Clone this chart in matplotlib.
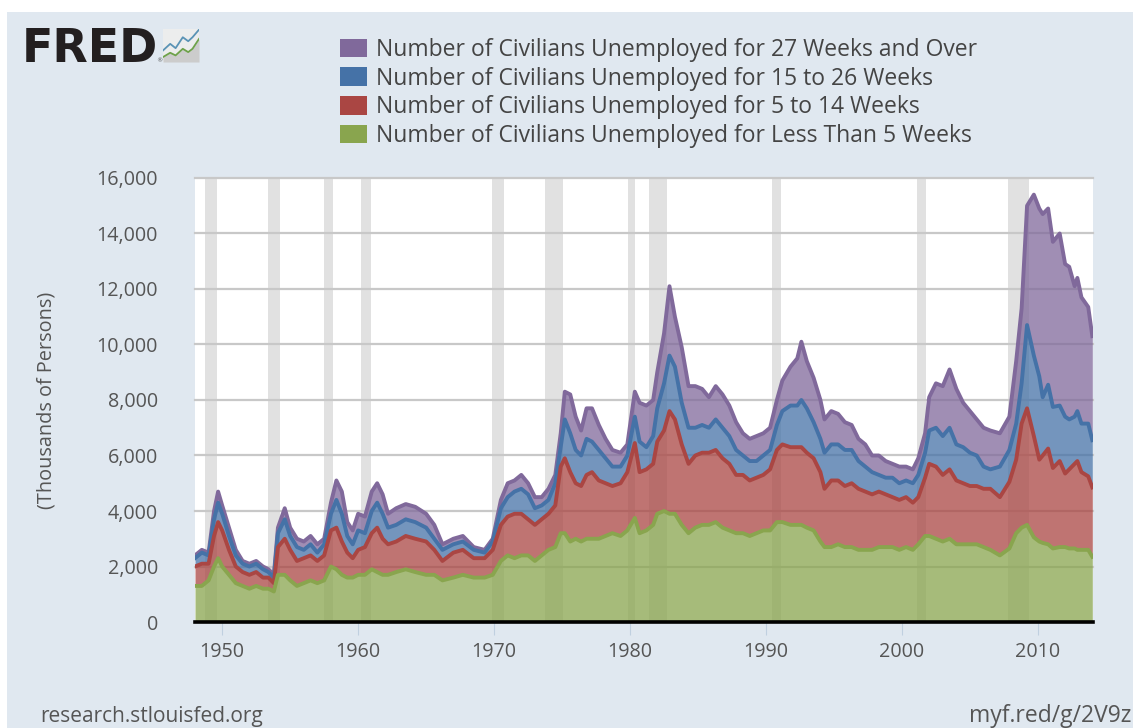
import numpy as np
import matplotlib
matplotlib.use('Agg')
import matplotlib.pyplot as plt
from matplotlib.patches import Patch, Rectangle

# data, thousands of persons, top edge of each stacked band
years = [1948.0, 1948.5, 1949.0, 1949.4, 1949.7, 1950.0, 1950.5, 1951.0, 1951.5, 1952.0,
         1952.5, 1953.0, 1953.4, 1953.8, 1954.1, 1954.6, 1955.0, 1955.5, 1956.0, 1956.5,
         1957.0, 1957.5, 1958.0, 1958.4, 1958.8, 1959.2, 1959.6, 1960.0, 1960.5, 1961.0,
         1961.4, 1961.8, 1962.2, 1962.8, 1963.5, 1964.2, 1965.0, 1965.6, 1966.2, 1967.0,
         1967.7, 1968.5, 1969.3, 1969.9, 1970.5, 1971.0, 1971.5, 1972.0, 1972.5, 1973.0,
         1973.5, 1974.0, 1974.5, 1974.9, 1975.2, 1975.6, 1976.0, 1976.4, 1976.8, 1977.2,
         1977.7, 1978.2, 1978.7, 1979.3, 1979.8, 1980.35, 1980.7, 1981.2, 1981.7, 1982.0,
         1982.5, 1982.9, 1983.3, 1983.8, 1984.3, 1984.8, 1985.3, 1985.8, 1986.3, 1986.8,
         1987.3, 1987.8, 1988.3, 1988.8, 1989.3, 1989.8, 1990.3, 1990.8, 1991.2, 1991.8,
         1992.3, 1992.6, 1993.0, 1993.5, 1994.0, 1994.3, 1994.8, 1995.3, 1995.8, 1996.3,
         1996.8, 1997.3, 1997.8, 1998.3, 1998.8, 1999.3, 1999.8, 2000.3, 2000.8, 2001.2,
         2001.7, 2002.0, 2002.5, 2003.0, 2003.5, 2004.0, 2004.5, 2005.0, 2005.5, 2006.0,
         2006.5, 2007.2, 2007.9, 2008.4, 2008.8, 2009.2, 2009.7, 2010.1, 2010.35, 2010.75,
         2011.1, 2011.6, 2012.0, 2012.3, 2012.7, 2012.9, 2013.2, 2013.7, 2014.0]
under_5 = [1.3, 1.3, 1.5, 2.0, 2.3, 2.0, 1.7, 1.4, 1.3, 1.2,
           1.3, 1.2, 1.2, 1.1, 1.7, 1.7, 1.5, 1.3, 1.4, 1.5,
           1.4, 1.5, 2.0, 1.9, 1.7, 1.6, 1.6, 1.7, 1.7, 1.9,
           1.8, 1.7, 1.7, 1.8, 1.9, 1.8, 1.7, 1.7, 1.5, 1.6,
           1.7, 1.6, 1.6, 1.7, 2.2, 2.4, 2.3, 2.4, 2.4, 2.2,
           2.4, 2.6, 2.7, 3.2, 3.2, 2.9, 3.0, 2.9, 3.0, 3.0,
           3.0, 3.1, 3.2, 3.1, 3.3, 3.75, 3.2, 3.3, 3.5, 3.9,
           4.0, 3.9, 3.9, 3.5, 3.2, 3.4, 3.5, 3.5, 3.6, 3.4,
           3.3, 3.2, 3.2, 3.1, 3.2, 3.3, 3.3, 3.6, 3.6, 3.5,
           3.5, 3.5, 3.4, 3.3, 2.9, 2.7, 2.7, 2.8, 2.7, 2.7,
           2.6, 2.6, 2.6, 2.7, 2.7, 2.7, 2.6, 2.7, 2.6, 2.8,
           3.1, 3.1, 3.0, 2.9, 3.0, 2.8, 2.8, 2.8, 2.8, 2.7,
           2.6, 2.4, 2.65, 3.2, 3.4, 3.5, 3.05, 2.9, 2.85, 2.8,
           2.65, 2.7, 2.7, 2.65, 2.65, 2.6, 2.6, 2.6, 2.35]
w5_14 = [2.0, 2.1, 2.1, 3.1, 3.6, 3.3, 2.6, 2.0, 1.8, 1.7,
         1.8, 1.6, 1.6, 1.4, 2.7, 3.0, 2.6, 2.2, 2.3, 2.4,
         2.2, 2.4, 3.3, 3.4, 2.9, 2.5, 2.3, 2.6, 2.7, 3.2,
         3.4, 3.0, 2.8, 2.9, 3.1, 3.0, 2.9, 2.6, 2.2, 2.5,
         2.6, 2.3, 2.3, 2.6, 3.5, 3.8, 3.9, 3.9, 3.7, 3.5,
         3.7, 3.9, 4.2, 5.6, 5.9, 5.4, 5.0, 4.9, 5.3, 5.4,
         5.1, 5.0, 4.9, 5.0, 5.4, 6.45, 5.4, 5.5, 5.7, 6.5,
         6.9, 7.6, 7.3, 6.4, 5.7, 6.0, 6.1, 6.1, 6.2, 5.9,
         5.7, 5.3, 5.3, 5.1, 5.2, 5.3, 5.5, 6.2, 6.4, 6.3,
         6.3, 6.3, 6.1, 5.9, 5.4, 4.8, 5.1, 5.1, 4.9, 5.0,
         4.8, 4.7, 4.6, 4.7, 4.6, 4.5, 4.4, 4.5, 4.3, 4.5,
         5.2, 5.7, 5.6, 5.3, 5.5, 5.1, 5.0, 4.9, 4.9, 4.8,
         4.8, 4.5, 5.05, 5.85, 7.15, 7.7, 6.7, 5.85, 6.0, 6.25,
         5.55, 5.8, 5.35, 5.5, 5.7, 5.8, 5.4, 5.25, 4.85]
w15_26 = [2.3, 2.5, 2.4, 3.7, 4.3, 3.9, 3.1, 2.4, 2.1, 2.0,
          2.1, 1.9, 1.8, 1.6, 3.2, 3.7, 3.1, 2.7, 2.6, 2.8,
          2.5, 2.8, 3.9, 4.4, 3.9, 3.1, 2.8, 3.3, 3.2, 4.0,
          4.3, 3.9, 3.4, 3.5, 3.7, 3.6, 3.4, 3.0, 2.6, 2.8,
          2.9, 2.6, 2.5, 2.9, 4.1, 4.5, 4.7, 4.8, 4.6, 4.1,
          4.2, 4.4, 5.0, 6.3, 7.3, 6.8, 6.2, 6.0, 6.6, 6.5,
          6.2, 5.9, 5.6, 5.6, 6.0, 7.4, 6.5, 6.3, 6.7, 7.7,
          8.6, 9.6, 9.2, 7.9, 7.0, 7.0, 7.1, 7.0, 7.3, 7.0,
          6.7, 6.2, 6.0, 5.8, 5.8, 6.0, 6.2, 7.1, 7.6, 7.8,
          7.8, 8.0, 7.7, 7.2, 6.6, 6.1, 6.4, 6.4, 6.2, 6.2,
          5.8, 5.6, 5.4, 5.3, 5.2, 5.2, 5.0, 5.1, 5.0, 5.3,
          6.1, 6.9, 7.0, 6.7, 7.0, 6.4, 6.3, 6.1, 6.0, 5.6,
          5.5, 5.6, 6.2, 7.15, 8.6, 10.7, 9.6, 8.85, 8.1, 8.55,
          7.75, 7.8, 7.4, 7.3, 7.4, 7.6, 7.15, 7.15, 6.55]
w27_over = [2.4, 2.6, 2.5, 4.0, 4.7, 4.2, 3.4, 2.6, 2.2, 2.1,
            2.2, 2.0, 1.9, 1.7, 3.4, 4.1, 3.4, 3.0, 2.9, 3.1,
            2.8, 3.0, 4.3, 5.1, 4.7, 3.6, 3.3, 3.9, 3.8, 4.7,
            5.0, 4.6, 3.9, 4.1, 4.25, 4.15, 3.9, 3.5, 2.8, 3.0,
            3.1, 2.7, 2.6, 3.0, 4.4, 5.0, 5.1, 5.3, 5.0, 4.5,
            4.5, 4.8, 5.3, 6.8, 8.3, 8.2, 7.4, 6.9, 7.7, 7.7,
            7.1, 6.6, 6.2, 6.1, 6.4, 8.3, 7.9, 7.8, 8.0, 9.0,
            10.4, 12.1, 11.0, 9.9, 8.5, 8.5, 8.4, 8.1, 8.5, 8.2,
            7.8, 7.2, 6.8, 6.6, 6.7, 6.8, 7.0, 8.0, 8.7, 9.2,
            9.5, 10.1, 9.4, 8.8, 8.0, 7.3, 7.6, 7.5, 7.2, 7.1,
            6.6, 6.4, 6.0, 6.0, 5.8, 5.7, 5.6, 5.6, 5.5, 5.9,
            6.8, 8.1, 8.6, 8.5, 9.1, 8.4, 7.9, 7.6, 7.3, 7.0,
            6.9, 6.8, 7.4, 9.4, 11.3, 15.0, 15.4, 14.9, 14.7, 14.9,
            13.7, 14.0, 12.9, 12.8, 12.1, 12.4, 11.7, 11.35, 10.3]

series_names = ['Number of Civilians Unemployed for 27 Weeks and Over',
                'Number of Civilians Unemployed for 15 to 26 Weeks',
                'Number of Civilians Unemployed for 5 to 14 Weeks',
                'Number of Civilians Unemployed for Less Than 5 Weeks']
recession_start = [1948.73, 1953.38, 1957.48, 1960.18, 1969.83, 1973.73, 1979.88, 1981.38, 1990.43, 2001.08, 2007.83]
recession_end = [1949.63, 1954.28, 1958.18, 1960.98, 1970.73, 1975.08, 1980.38, 1982.73, 1991.08, 2001.73, 2009.33]
y_ticks = [0, 2000, 4000, 6000, 8000, 10000, 12000, 14000, 16000]
x_ticks = [1950, 1960, 1970, 1980, 1990, 2000, 2010]

plt.rcParams['font.family'] = ['Open Sans', 'DejaVu Sans']

PANEL = '#e0e8f0'
TEXT = '#555555'
colors = {'green': '#89a54e', 'red': '#aa4643', 'blue': '#4572a7', 'purple': '#80699b'}

W, H = 1133, 728
fig = plt.figure(figsize=(W / 100, H / 100), dpi=100, facecolor='white')
fig.patches.append(Rectangle((7 / W, 0), 1 - 7 / W, 1 - 12 / H, transform=fig.transFigure,
                             facecolor=PANEL, edgecolor='none', zorder=-5))

ax = fig.add_axes([195 / W, (H - 622) / H, 898 / W, 444 / H])
ax.set_facecolor('white')
ax.set_xlim(1948.0, 2014.05)
ax.set_ylim(0, 16000)

for a, b in zip(recession_start, recession_end):
    ax.axvspan(a, b, color='#e1e1e1', lw=0, zorder=1)
ax.yaxis.grid(True, color='#c8c8c8', lw=1.6)
ax.set_axisbelow(False)
for line in ax.get_ygridlines():
    line.set_zorder(2)
    line.set_clip_on(False)

x = np.array(years)
bands = [('green', np.zeros(len(x)), under_5),
         ('red', under_5, w5_14),
         ('blue', w5_14, w15_26),
         ('purple', w15_26, w27_over)]
for name, low, top in bands:
    low = np.array(low) * 1000
    top = np.array(top) * 1000
    ax.fill_between(x, low, top, color=colors[name], alpha=0.75, lw=0, zorder=3)
for name, low, top in reversed(bands):
    ax.plot(x, np.array(top) * 1000, color=colors[name], lw=2.8, zorder=4, solid_joinstyle='round')

for s in ['left', 'right', 'top']:
    ax.spines[s].set_visible(False)
ax.spines['bottom'].set_color('black')
ax.spines['bottom'].set_linewidth(2.6)
ax.spines['bottom'].set_zorder(6)

ax.set_yticks(y_ticks)
ax.set_yticklabels([f'{v:,}' for v in y_ticks])
ax.set_xticks(x_ticks)
ax.tick_params(axis='y', length=0, pad=37 / 1.39, labelsize=14.2, labelcolor=TEXT)
ax.tick_params(axis='x', length=9.5, width=0.8, color='#c0d0e0', pad=5, labelsize=14.2, labelcolor=TEXT)
ax.set_ylabel('(Thousands of Persons)', fontsize=14.3, color=TEXT)
ax.yaxis.set_label_coords(-138 / 898, 0.5)

handles = [Patch(facecolor=colors[c], edgecolor='none') for c in ['purple', 'blue', 'red', 'green']]
fig.legend(handles, series_names, loc='upper left', bbox_to_anchor=(340 / W, 1 - 38 / H), frameon=False,
           fontsize=16.5, labelcolor='#444444', handlelength=1.18, handleheight=0.87, handletextpad=0.4,
           labelspacing=0.2, borderpad=0, borderaxespad=0)

# logo
fig.text(22 / W, 1 - 62 / H, 'FRED', family='DejaVu Sans', weight='bold', fontsize=33, color='#231f20')
fig.text(156 / W, 1 - 62 / H, '®', family='DejaVu Sans', fontsize=4.5, color='#555555')
logo = fig.add_axes([163 / W, 1 - 62 / H, 36 / W, 33 / H])
logo.set_facecolor('#eceded')
logo.set_xlim(0, 10)
logo.set_ylim(0, 10)
logo.set_xticks([])
logo.set_yticks([])
for s in logo.spines.values():
    s.set_visible(False)
logo_x = [0, 2, 3.5, 5.5, 7, 8.2, 10]
logo.fill_between(logo_x, 0, [1.5, 2.8, 2, 4, 3, 4, 7], color='#cccccc', lw=0)
logo.plot(logo_x, [3.5, 5.5, 4.2, 7.5, 6.3, 7.5, 9.8], color='#5a93b5', lw=1.3)
logo.plot(logo_x, [1.5, 2.8, 2, 4, 3, 4, 7], color='#6ea24a', lw=1.3)

fig.text(40 / W, 1 - 722 / H, 'research.stlouisfed.org', fontsize=15, color=TEXT, va='baseline')
fig.text(1131 / W, 1 - 722 / H, 'myf.red/g/2V9z', fontsize=16.5, color=TEXT, va='baseline', ha='right')

fig.savefig('out.png', dpi=100, facecolor='white')
